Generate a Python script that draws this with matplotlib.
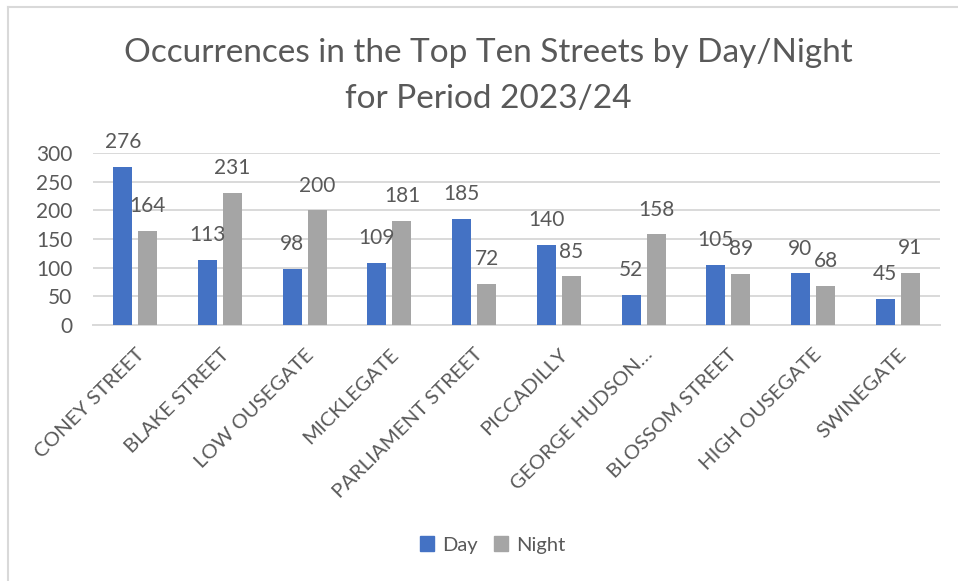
import numpy as np
import matplotlib.pyplot as plt
from matplotlib.lines import Line2D
from matplotlib.patches import Patch

# ── Data ─────────────────────────────────────────────────────────────────────
streets = ['CONEY STREET', 'BLAKE STREET', 'LOW OUSEGATE', 'MICKLEGATE',
           'PARLIAMENT STREET', 'PICCADILLY', 'GEORGE HUDSON…',
           'BLOSSOM STREET', 'HIGH OUSEGATE', 'SWINEGATE']
day   = [276, 113, 98, 109, 185, 140, 52, 105, 90, 45]
night = [164, 231, 200, 181, 72, 85, 158, 89, 68, 91]
yticks = [0, 50, 100, 150, 200, 250, 300]

BLUE  = '#4472C4'
GREY  = '#A5A5A5'
TEXT  = '#595959'
GRID  = '#D9D9D9'

plt.rcParams['font.family'] = ['Lato', 'DejaVu Sans']

fig = plt.figure(figsize=(9.58, 5.81), dpi=100)
ax = fig.add_axes([93/958, 1 - 325/581, (940 - 93)/958, (325 - 153)/581])

x = np.arange(len(streets))
w = 0.224
off = 0.148
b1 = ax.bar(x - off, day, width=w, color=BLUE, zorder=3)
b2 = ax.bar(x + off, night, width=w, color=GREY, zorder=3)

# data labels above each bar
for bars in (b1, b2):
    for bar in bars:
        ax.annotate(f'{bar.get_height():.0f}',
                    (bar.get_x() + bar.get_width() / 2, bar.get_height()),
                    xytext=(0, 13.5), textcoords='offset points',
                    ha='center', va='baseline', fontsize=15, color=TEXT)

ax.set_xlim(-0.5, len(streets) - 0.5)
ax.set_ylim(0, 300)
ax.set_yticks(yticks)
ax.yaxis.grid(True, color=GRID, linewidth=1.4, zorder=0)
ax.set_axisbelow(True)
for s in ['top', 'right', 'left']:
    ax.spines[s].set_visible(False)
ax.spines['bottom'].set_color(GRID)
ax.spines['bottom'].set_linewidth(1.4)
ax.tick_params(axis='y', length=0, pad=15, labelsize=15, labelcolor=TEXT)
ax.tick_params(axis='x', length=0, pad=15, labelsize=14.7, labelcolor=TEXT)
ax.set_xticks(x)
ax.set_xticklabels(streets, rotation=45, ha='right', va='top',
                   rotation_mode='anchor')

fig.text(488/958, 1 - 53/581, 'Occurrences in the Top Ten Streets by Day/Night',
         ha='center', va='center', fontsize=24, color=TEXT)
fig.text(488/958, 1 - 99/581, 'for Period 2023/24',
         ha='center', va='center', fontsize=24, color=TEXT)

handles = [Patch(color=BLUE, label='Day'), Patch(color=GREY, label='Night')]
fig.legend(handles=handles, loc='center', bbox_to_anchor=(493/958, 1 - 545/581),
           ncol=2, frameon=False, fontsize=14.5, handlelength=0.7,
           handleheight=0.7, handletextpad=0.4, columnspacing=0.8,
           labelcolor=TEXT)

# chart-area border (top and left only visible)
fig.add_artist(Line2D([8/958, 1], [1 - 7/581, 1 - 7/581], color=GRID,
                      linewidth=1.5, transform=fig.transFigure))
fig.add_artist(Line2D([8/958, 8/958], [0, 1 - 7/581], color=GRID,
                      linewidth=1.5, transform=fig.transFigure))

fig.savefig('out.png', dpi=100, facecolor='white')
